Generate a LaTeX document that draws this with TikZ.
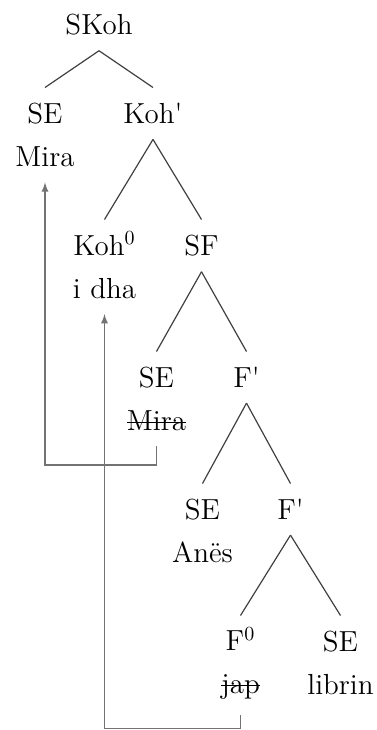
\documentclass[tikz,border=0pt]{standalone}
\usepackage{fontspec}
\usepackage{tikz}

% struck-out copy of a moved word
\newcommand{\struckword}[1]{\sbox0{#1}\rlap{\rule[0.27em]{\wd0}{0.55pt}}\usebox0}

\begin{document}
\begin{tikzpicture}[growth parent anchor=north,
    level 1/.style={level distance=44.5pt, sibling distance=54pt},
    level 2/.style={level distance=66pt, sibling distance=48.5pt},
    level 3/.style={sibling distance=45pt},
    level 4/.style={sibling distance=44pt},
    level 5/.style={sibling distance=50pt},
    every node/.style = {anchor=north, align=center, inner sep=7.6pt, font=\fontsize{14.5}{21.5}\selectfont},
    edge from parent/.style={draw, black!75, line width=0.6pt},
    edge from parent path={(\tikzparentnode.south) -- (\tikzchildnode.north)},
    move/.style={draw, black!55, line width=0.6pt, -latex}]
    \useasboundingbox (0,-365pt) rectangle (188pt,0);
            \node (skoh) at (49.5pt,0.75pt) {SKoh}
                child {node (semira) {SE\\Mira}}
                child {node (kohbar) {Koh\textquotesingle}
                    child {node (koh) {Koh\smash{$^0$}\\i dha}}
                    child {node (sf) {SF}
                        child {node (semiracopy) {SE\\\struckword{Mira}}}
                        child {node (fbar) {F\textquotesingle}
                            child {node (seanes) {SE\\Anës}}
                            child {node (fbarlow) {F\textquotesingle}
                                child {node (fzero) {F\smash{$^0$}\\\struckword{jap}}}
                                child {node (selibrin) {SE\\librin}}
                            }
                        }
                    }
                };
            \draw[move] (semiracopy.south) -- ++(0,-9.25pt) -| (semira.south);
            \draw[move] (fzero.south) -- ++(0,-6.5pt) -| (koh.south);
        \end{tikzpicture}
\end{document}
